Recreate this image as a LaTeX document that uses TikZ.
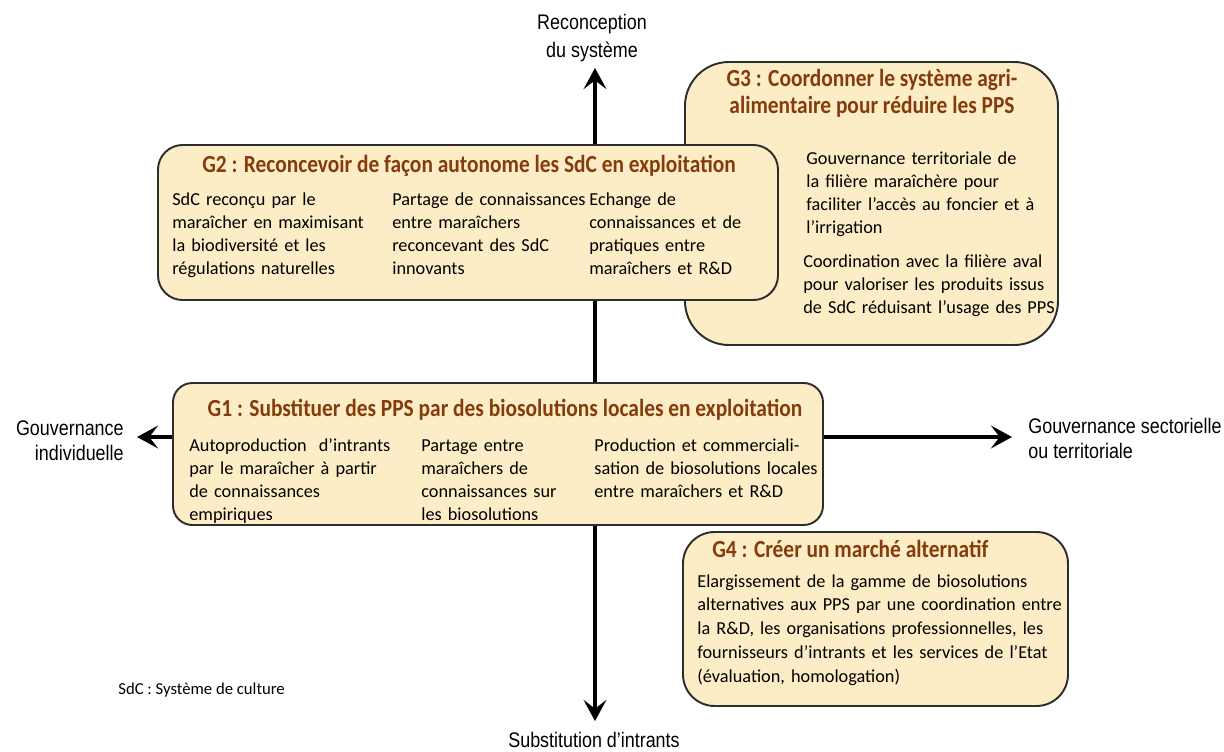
\documentclass[tikz,border=0pt]{standalone}
\usepackage{fontspec}
\setmainfont{Carlito}
\newfontfamily\titlefont[FakeStretch=0.87]{Carlito}
\newfontfamily\axisfont[FakeStretch=0.85]{Liberation Sans}
\usetikzlibrary{arrows.meta}
\definecolor{boxfill}{RGB}{253,237,198}
\definecolor{titlebrown}{RGB}{132,60,12}
\definecolor{boxline}{RGB}{45,45,45}
\begin{document}
\begin{tikzpicture}[x=0.02cm,y=-0.02cm,
  gbox/.style={draw=boxline, line width=1.1pt, fill=boxfill, rounded corners=#1},
  ttl/.style={font=\titlefont\bfseries\fontsize{14}{15.4}\selectfont, text=titlebrown, inner sep=0pt, align=center},
  body/.style={font=\fontsize{10.4}{13.1}\selectfont, inner sep=0pt, align=left, text width=10cm, anchor=base west},
  axlab/.style={font=\axisfont\fontsize{12}{14.2}\selectfont, inner sep=0pt},
  axisarrow/.style={line width=2.3pt, -{Stealth[length=12pt,width=13pt,inset=5pt]}}
]
\useasboundingbox (0,0) rectangle (1224,751);

% axes
\coordinate (O) at (595,437);
\coordinate (tipU) at (595,68);
\coordinate (tipD) at (595,721);
\coordinate (tipL) at (137,437);
\coordinate (tipR) at (1012,437);
\draw[axisarrow] (O) -- (tipU);
\draw[axisarrow] (O) -- (tipD);
\draw[axisarrow] (O) -- (tipL);
\draw[axisarrow] (O) -- (tipR);

\node[axlab, align=center, font=\axisfont\fontsize{12}{16}\selectfont] (labU) at (592,38) {Reconception\\du système};
\node[axlab, align=center] (labD) at (594,740) {Substitution d’intrants};
\node[axlab, align=right, anchor=east] (labL) at (124,441) {Gouvernance\\individuelle};
\node[axlab, align=left, anchor=west] (labR) at (1028,438) {Gouvernance sectorielle\\ou territoriale};

% G3
\draw[gbox=25pt] (685,62) rectangle (1058,345);
\node[ttl] (g3t) at (872,93) {G3 : Coordonner le système agri-\\alimentaire pour réduire les PPS};
\node[body] (g3a) at (806,164) {Gouvernance territoriale de\\la filière maraîchère pour\\faciliter l’accès au foncier et à\\l’irrigation};
\node[body] (g3b) at (803,267) {Coordination avec la filière aval\\pour valoriser les produits issus\\de SdC réduisant l’usage des PPS};

% G2
\draw[gbox=14pt] (158,145) rectangle (778,300);
\node[ttl] (g2t) at (469,166) {G2 : Reconcevoir de façon autonome les SdC en exploitation};
\node[body] (g2a) at (172,205) {SdC reconçu par le\\maraîcher en maximisant\\la biodiversité et les\\régulations naturelles};
\node[body] (g2b) at (392,205) {Partage de connaissances\\entre maraîchers\\reconcevant des SdC\\innovants};
\node[body] (g2c) at (589,205) {Echange de\\connaissances et de\\pratiques entre\\maraîchers et R\&D};

% G1
\draw[gbox=11pt] (173,383) rectangle (823,525);
\node[ttl] (g1t) at (505,410) {G1 : Substituer des PPS par des biosolutions locales en exploitation};
\node[body] (g1a) at (189,451) {Autoproduction\ \ d’intrants\\par le maraîcher à partir\\de connaissances\\empiriques};
\node[body] (g1b) at (421,451) {Partage entre\\maraîchers de\\connaissances sur\\les biosolutions};
\node[body] (g1c) at (594,451) {Production et commerciali-\\sation de biosolutions locales\\entre maraîchers et R\&D};

% G4
\draw[gbox=18pt] (683,532) rectangle (1068,706);
\node[ttl, anchor=west] (g4t) at (712,549) {G4 : Créer un marché alternatif};
\node[body, font=\fontsize{10.4}{13.6}\selectfont] (g4a) at (697,587) {Elargissement de la gamme de biosolutions\\alternatives aux PPS par une coordination entre\\la R\&D, les organisations professionnelles, les\\fournisseurs d’intrants et les services de l’Etat\\(évaluation, homologation)};

\node[font=\fontsize{9.5}{11}\selectfont, inner sep=0pt, anchor=west] (note) at (118,690) {SdC : Système de culture};
\end{tikzpicture}
\end{document}
